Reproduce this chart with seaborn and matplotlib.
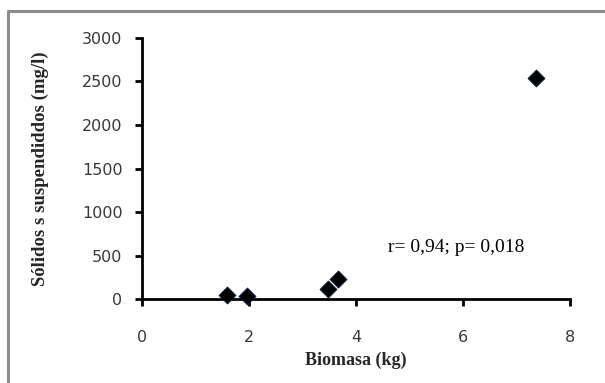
import matplotlib
matplotlib.use('Agg')
import matplotlib.pyplot as plt
import seaborn as sns
import pandas as pd
from matplotlib.lines import Line2D

biomasa = [1.58, 1.96, 3.48, 3.66, 7.36]
solidos = [50, 40, 110, 225, 2535]
x_ticks = [0, 2, 4, 6, 8]
y_ticks = [0, 500, 1000, 1500, 2000, 2500, 3000]
annot = 'r= 0,94; p= 0,018'

sns.set_style('ticks')
df = pd.DataFrame({'Biomasa (kg)': biomasa, 'Sólidos s suspendiddos (mg/l)': solidos})

fig = plt.figure(figsize=(6.05, 3.83), dpi=100)
ax = fig.add_axes([0.2347, 0.2193, 0.7074, 0.6815])
sns.scatterplot(data=df, x='Biomasa (kg)', y='Sólidos s suspendiddos (mg/l)',
                marker='D', s=75, color='black', edgecolor='#0a1a40', linewidth=0.6, ax=ax,
                clip_on=False, zorder=3)
ax.set_xlim(0, 8)
ax.set_ylim(0, 3000)
ax.set_xticks(x_ticks)
ax.set_yticks(y_ticks)
for sp in ['top', 'right']:
    ax.spines[sp].set_visible(False)
for sp in ['left', 'bottom']:
    ax.spines[sp].set_linewidth(2)
    ax.spines[sp].set_color('black')
ax.tick_params(axis='both', width=2, length=5, color='black', labelsize=11.5,
               labelcolor='#383838')
ax.tick_params(axis='x', pad=17)
ax.tick_params(axis='y', pad=9)
for lab in ax.get_xticklabels() + ax.get_yticklabels():
    lab.set_fontfamily('DejaVu Sans')
ax.set_xlabel('Biomasa (kg)', fontfamily='Liberation Serif', fontweight='bold',
              fontsize=13, labelpad=5)
ax.set_ylabel('Sólidos s suspendiddos (mg/l)', fontfamily='Liberation Serif',
              fontweight='bold', fontsize=13.5, labelpad=24)
ax.text(4.6, 540, annot, fontfamily='Liberation Serif', fontsize=14, color='black')

# outer frame (gray, left and top)
fig.add_artist(Line2D([8/605, 8/605], [0, 1 - 11/383], transform=fig.transFigure,
                      color='#8c8c8c', lw=2.2))
fig.add_artist(Line2D([8/605, 1], [1 - 11/383, 1 - 11/383], transform=fig.transFigure,
                      color='#8c8c8c', lw=2.2))

fig.savefig('out.png', dpi=100)
